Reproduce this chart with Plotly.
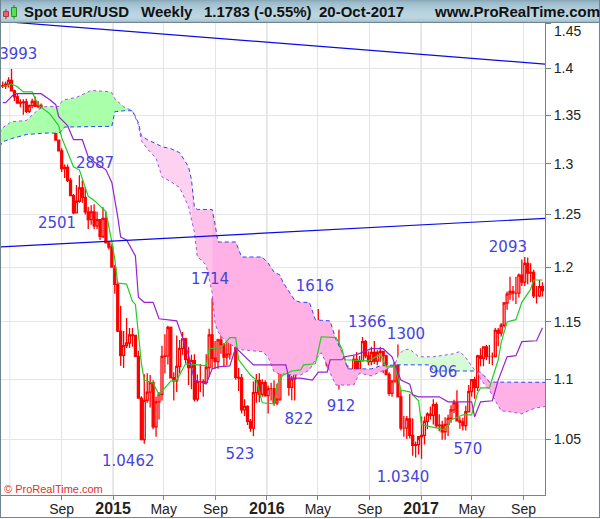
import pandas as pd
import plotly.graph_objects as go

SPOT_FONT = "Liberation Sans"
LABEL_FONT = "DejaVu Sans"
WIDTH, HEIGHT = 600, 519
PLOT_L, PLOT_R, PLOT_T, PLOT_B = 1, 545, 23, 495

# weekly bars, first bar is the week of 14 April 2014
first_week = pd.Timestamp("2014-04-14")

opens = [
    1.3810, 1.3812, 1.3832, 1.3870, 1.3759, 1.3695, 1.3628, 1.3635, 1.3642, 1.3542,
    1.3602, 1.3646, 1.3594, 1.3605, 1.3525, 1.3430, 1.3430, 1.3416, 1.3400, 1.3242,
    1.3132, 1.2952, 1.2965, 1.2835, 1.2684, 1.2516, 1.2629, 1.2760, 1.2667, 1.2525,
    1.2451, 1.2526, 1.2390, 1.2451, 1.2288, 1.2462, 1.2227, 1.2188, 1.1990, 1.1840,
    1.1418, 1.1205, 1.1290, 1.1313, 1.1385, 1.1379, 1.1196, 1.0840, 1.0495, 1.0820,
    1.0890, 1.0970, 1.0600, 1.0807, 1.0870, 1.1197, 1.1200, 1.1450, 1.1012, 1.0985,
    1.1110, 1.1265, 1.1350, 1.1170, 1.1100, 1.1160, 1.0830, 1.0980, 1.0980, 1.0970,
    1.1100, 1.1385, 1.1180, 1.1150, 1.1340, 1.1300, 1.1190, 1.1215, 1.1360, 1.1350,
    1.1015, 1.1010, 1.0740, 1.0770, 1.0645, 1.0590, 1.0885, 1.0990, 1.0870, 1.0970,
    1.0860, 1.0920, 1.0920, 1.0800, 1.0830, 1.1155, 1.1250, 1.1130, 1.0930, 1.1000,
    1.1150, 1.1270, 1.1170, 1.1390, 1.1400, 1.1280, 1.1220, 1.1450, 1.1400, 1.1310,
    1.1220, 1.1120, 1.1370, 1.1250, 1.1280, 1.1120, 1.1130, 1.1060, 1.1040, 1.0975,
    1.1170, 1.1085, 1.1160, 1.1325, 1.1200, 1.1150, 1.1230, 1.1155, 1.1230, 1.1240,
    1.1200, 1.1040, 1.0880, 1.0985, 1.1140, 1.0850, 1.0590, 1.0590, 1.0665, 1.0530,
    1.0450, 1.0455, 1.0520, 1.0530, 1.0645, 1.0705, 1.0695, 1.0785, 1.0610, 1.0615,
    1.0560, 1.0620, 1.0670, 1.0740, 1.0800, 1.0650, 1.0640, 1.0610, 1.0725, 1.0895,
    1.0995, 1.0930, 1.1200, 1.1180, 1.1280, 1.1195, 1.1195, 1.1195, 1.1425, 1.1400,
    1.1470, 1.1670, 1.1750, 1.1775, 1.1760, 1.1760, 1.1925, 1.1860, 1.2035, 1.1945,
    1.1950, 1.1735, 1.1735, 1.1820,
]
highs = [
    1.3860, 1.3860, 1.3905, 1.3993, 1.3770, 1.3735, 1.3670, 1.3670, 1.3675, 1.3615,
    1.3675, 1.3700, 1.3650, 1.3625, 1.3545, 1.3445, 1.3445, 1.3445, 1.3420, 1.3245,
    1.3160, 1.2995, 1.2995, 1.2860, 1.2700, 1.2790, 1.2887, 1.2835, 1.2770, 1.2575,
    1.2590, 1.2600, 1.2530, 1.2455, 1.2570, 1.2530, 1.2245, 1.2215, 1.2020, 1.1865,
    1.1645, 1.1420, 1.1535, 1.1445, 1.1445, 1.1385, 1.1245, 1.0855, 1.1043, 1.1050,
    1.1035, 1.0990, 1.0850, 1.0890, 1.1290, 1.1390, 1.1465, 1.1460, 1.1060, 1.1380,
    1.1340, 1.1410, 1.1360, 1.1280, 1.1210, 1.1215, 1.1040, 1.1130, 1.1000, 1.1215,
    1.1440, 1.1714, 1.1330, 1.1350, 1.1460, 1.1310, 1.1320, 1.1390, 1.1495, 1.1390,
    1.1095, 1.1045, 1.0830, 1.0780, 1.0665, 1.0980, 1.1045, 1.1050, 1.1000, 1.0990,
    1.0945, 1.0970, 1.0990, 1.0960, 1.1200, 1.1375, 1.1260, 1.1145, 1.1030, 1.1220,
    1.1340, 1.1290, 1.1440, 1.1450, 1.1465, 1.1400, 1.1465, 1.1616, 1.1445, 1.1345,
    1.1250, 1.1380, 1.1415, 1.1300, 1.1430, 1.1180, 1.1185, 1.1120, 1.1060, 1.1200,
    1.1235, 1.1200, 1.1365, 1.1340, 1.1240, 1.1280, 1.1330, 1.1250, 1.1280, 1.1245,
    1.1210, 1.1060, 1.0990, 1.1145, 1.1300, 1.0905, 1.0690, 1.0690, 1.0875, 1.0670,
    1.0480, 1.0490, 1.0685, 1.0685, 1.0720, 1.0770, 1.0830, 1.0805, 1.0705, 1.0650,
    1.0680, 1.0700, 1.0780, 1.0825, 1.0906, 1.0680, 1.0675, 1.0775, 1.0950, 1.0995,
    1.1020, 1.1210, 1.1268, 1.1285, 1.1295, 1.1295, 1.1230, 1.1445, 1.1445, 1.1490,
    1.1680, 1.1775, 1.1910, 1.1825, 1.1910, 1.1940, 1.2070, 1.2093, 1.2090, 1.2035,
    1.1975, 1.1825, 1.1880, 1.1860,
]
lows = [
    1.3790, 1.3780, 1.3795, 1.3755, 1.3650, 1.3625, 1.3585, 1.3505, 1.3525, 1.3525,
    1.3575, 1.3590, 1.3575, 1.3490, 1.3425, 1.3365, 1.3335, 1.3335, 1.3240, 1.3130,
    1.2920, 1.2860, 1.2820, 1.2680, 1.2501, 1.2515, 1.2615, 1.2615, 1.2500, 1.2360,
    1.2400, 1.2360, 1.2360, 1.2255, 1.2275, 1.2225, 1.2165, 1.2000, 1.1755, 1.1410,
    1.1115, 1.1095, 1.1270, 1.1270, 1.1280, 1.1195, 1.0840, 1.0495, 1.0462, 1.0800,
    1.0760, 1.0580, 1.0520, 1.0660, 1.0820, 1.1050, 1.1125, 1.1010, 1.0820, 1.0890,
    1.1050, 1.1210, 1.1135, 1.0950, 1.0915, 1.0810, 1.0810, 1.0890, 1.0850, 1.0960,
    1.1020, 1.1085, 1.1090, 1.1090, 1.1220, 1.1105, 1.1120, 1.1170, 1.1330, 1.0995,
    1.0900, 1.0710, 1.0690, 1.0615, 1.0560, 1.0523, 1.0800, 1.0805, 1.0850, 1.0850,
    1.0710, 1.0820, 1.0775, 1.0780, 1.0815, 1.1150, 1.1070, 1.0860, 1.0822, 1.0820,
    1.1060, 1.1150, 1.1145, 1.1325, 1.1235, 1.1215, 1.1215, 1.1385, 1.1310, 1.1200,
    1.1100, 1.1100, 1.1235, 1.1130, 1.0912, 1.0990, 1.1000, 1.1000, 1.0950, 1.0950,
    1.1050, 1.1050, 1.1150, 1.1180, 1.1120, 1.1120, 1.1130, 1.1120, 1.1150, 1.1050,
    1.1040, 1.0860, 1.0850, 1.0970, 1.0850, 1.0570, 1.0520, 1.0500, 1.0505, 1.0365,
    1.0350, 1.0375, 1.0340, 1.0455, 1.0580, 1.0660, 1.0620, 1.0590, 1.0565, 1.0495,
    1.0495, 1.0525, 1.0635, 1.0715, 1.0650, 1.0585, 1.0570, 1.0570, 1.0720, 1.0850,
    1.0835, 1.0900, 1.1110, 1.1110, 1.1165, 1.1130, 1.1120, 1.1190, 1.1285, 1.1370,
    1.1450, 1.1610, 1.1700, 1.1690, 1.1660, 1.1720, 1.1825, 1.1825, 1.1840, 1.1860,
    1.1715, 1.1665, 1.1725, 1.1730,
]
closes = [
    1.3812, 1.3832, 1.3870, 1.3759, 1.3695, 1.3628, 1.3635, 1.3642, 1.3542, 1.3602,
    1.3646, 1.3594, 1.3605, 1.3525, 1.3430, 1.3430, 1.3416, 1.3400, 1.3242, 1.3132,
    1.2952, 1.2965, 1.2835, 1.2684, 1.2516, 1.2629, 1.2760, 1.2667, 1.2525, 1.2451,
    1.2526, 1.2390, 1.2451, 1.2288, 1.2462, 1.2227, 1.2188, 1.2000, 1.1840, 1.1418,
    1.1204, 1.1290, 1.1313, 1.1385, 1.1379, 1.1196, 1.0840, 1.0495, 1.0820, 1.0890,
    1.0970, 1.0600, 1.0807, 1.0870, 1.1197, 1.1200, 1.1450, 1.1012, 1.0985, 1.1110,
    1.1265, 1.1350, 1.1170, 1.1100, 1.1160, 1.0830, 1.0980, 1.0980, 1.0970, 1.1100,
    1.1385, 1.1180, 1.1150, 1.1340, 1.1300, 1.1190, 1.1215, 1.1360, 1.1350, 1.1015,
    1.1010, 1.0740, 1.0770, 1.0645, 1.0590, 1.0885, 1.0990, 1.0870, 1.0970, 1.0860,
    1.0920, 1.0920, 1.0800, 1.0830, 1.1155, 1.1250, 1.1130, 1.0930, 1.1000, 1.1150,
    1.1270, 1.1170, 1.1390, 1.1400, 1.1280, 1.1220, 1.1450, 1.1400, 1.1310, 1.1220,
    1.1120, 1.1370, 1.1250, 1.1280, 1.1120, 1.1130, 1.1060, 1.1040, 1.0975, 1.1170,
    1.1085, 1.1160, 1.1325, 1.1200, 1.1150, 1.1230, 1.1155, 1.1230, 1.1240, 1.1200,
    1.1040, 1.0880, 1.0985, 1.1140, 1.0850, 1.0590, 1.0590, 1.0665, 1.0530, 1.0450,
    1.0455, 1.0520, 1.0530, 1.0645, 1.0705, 1.0695, 1.0785, 1.0610, 1.0615, 1.0560,
    1.0620, 1.0670, 1.0740, 1.0800, 1.0650, 1.0640, 1.0610, 1.0725, 1.0895, 1.0995,
    1.0930, 1.1200, 1.1180, 1.1280, 1.1195, 1.1195, 1.1195, 1.1425, 1.1400, 1.1470,
    1.1670, 1.1750, 1.1775, 1.1760, 1.1760, 1.1925, 1.1860, 1.2035, 1.1945, 1.1950,
    1.1735, 1.1735, 1.1820, 1.1783,
]

# conversion line (green), read at its corners only
tenkan_weeks = [
    0, 3, 5, 7, 10, 12, 16, 19, 20, 24, 26, 29, 31, 35, 37, 38, 39, 42, 44, 45, 47, 48, 51, 53, 55,
    57, 59, 62, 66, 69, 70, 74, 77, 79, 80, 84, 86, 88, 92, 93, 95, 96, 98, 101, 102, 106, 108, 113,
    115, 116, 124, 128, 130, 133, 135, 138, 141, 142, 147, 150, 152, 156, 159, 161, 162, 165, 168,
    169, 171, 174, 176, 179, 180, 183,
]
tenkan = [
    1.3803, 1.3832, 1.3803, 1.3747, 1.3747, 1.3612, 1.3516, 1.3392, 1.3268, 1.2971, 1.2941, 1.2677,
    1.2637, 1.2529, 1.2236, 1.2075, 1.1852, 1.1843, 1.1685, 1.1657, 1.1140, 1.0992, 1.0967, 1.0867,
    1.0925, 1.0983, 1.0992, 1.1132, 1.1123, 1.1114, 1.1263, 1.1272, 1.1360, 1.1360, 1.1167, 1.1035,
    1.0992, 1.0800, 1.0792, 1.0950, 1.1035, 1.1044, 1.1070, 1.1079, 1.1123, 1.1132, 1.1368, 1.1360,
    1.1263, 1.1167, 1.1158, 1.1211, 1.1105, 1.1105, 1.0908, 1.0892, 1.0817, 1.0617, 1.0592, 1.0575,
    1.0658, 1.0700, 1.0700, 1.0883, 1.0925, 1.0925, 1.1167, 1.1316, 1.1500, 1.1520, 1.1676, 1.1796,
    1.1880, 1.1880,
]

# base line (purple)
kijun_weeks = [
    0, 1, 4, 13, 16, 18, 19, 22, 24, 27, 29, 31, 35, 37, 39, 40, 42, 45, 46, 48, 51, 53, 59, 61, 63,
    65, 69, 71, 73, 77, 79, 85, 96, 97, 101, 105, 107, 110, 111, 115, 116, 120, 125, 129, 132, 135,
    138, 139, 141, 148, 151, 159, 160, 162, 166, 168, 171, 174, 176, 181, 183,
]
kijun = [
    1.3633, 1.3633, 1.3729, 1.3729, 1.3665, 1.3612, 1.3485, 1.3392, 1.3247, 1.3247, 1.3072, 1.3021,
    1.2941, 1.2814, 1.2480, 1.2283, 1.2255, 1.2104, 1.1722, 1.1676, 1.1676, 1.1528, 1.1509, 1.1360,
    1.1211, 1.0992, 1.0958, 1.1088, 1.1105, 1.1114, 1.1272, 1.1123, 1.1123, 1.1009, 1.1009, 1.0992,
    1.1061, 1.1061, 1.1167, 1.1167, 1.1193, 1.1211, 1.1263, 1.1263, 1.1193, 1.0992, 1.0958, 1.0867,
    1.0850, 1.0850, 1.0808, 1.0808, 1.0683, 1.0808, 1.0817, 1.0992, 1.1193, 1.1202, 1.1325, 1.1333,
    1.1447,
]

# cloud edges, both read at the same weeks
cloud_weeks = [
    -1, 0, 1, 3, 8, 12, 14, 19, 20, 21, 25, 30, 36, 37, 38, 41, 44,
    46, 47, 49, 52, 54, 57, 60, 63, 64, 65, 66, 67, 69, 71, 72, 73, 75, 79, 81, 85, 88, 90, 92, 94,
    95, 99, 101, 104, 106, 108, 110, 111, 113, 115, 117, 119, 121, 125, 128, 132, 133,
    134, 136, 138, 141, 145, 146, 153, 155, 157, 160, 161,
    162, 164, 165, 167, 169, 172, 176, 179, 181, 184,
]
span_a = [
    1.3320, 1.3371, 1.3392, 1.3433, 1.3446, 1.3558, 1.3590, 1.3594, 1.3644, 1.3665, 1.3689, 1.3764,
    1.3750, 1.3739, 1.3675, 1.3590, 1.3548,
    1.3402, 1.3237, 1.3155, 1.3059, 1.2871, 1.2823, 1.2764, 1.2578, 1.2453, 1.2330, 1.2094, 1.2075,
    1.2019, 1.1768, 1.1491, 1.1412, 1.1342, 1.1272, 1.1254, 1.1246, 1.1237, 1.1193, 1.1061, 1.1044,
    1.1044, 1.1035, 1.1035, 1.1079, 1.1167, 1.1228, 1.1123, 1.1052, 1.0950, 1.0950, 1.0950, 1.0950,
    1.1052, 1.1028, 1.1063, 1.1105, 1.1123,
    1.1202, 1.1254, 1.1259, 1.1193, 1.1193, 1.1193, 1.1219, 1.1239, 1.1184, 1.1079, 1.1061,
    1.1000, 1.0936, 1.0908, 1.0817, 1.0733, 1.0725, 1.0708, 1.0742, 1.0758, 1.0769,
]
span_b = [
    1.3176, 1.3227, 1.3237, 1.3258, 1.3300, 1.3315, 1.3315, 1.3315, 1.3338, 1.3378, 1.3378, 1.3378,
    1.3382, 1.3385, 1.3537, 1.3548, 1.3548,
    1.3423, 1.3289, 1.3247, 1.3206, 1.3175, 1.3155, 1.3114, 1.2971, 1.2843, 1.2569, 1.2549, 1.2549,
    1.2549, 1.2549, 1.2406, 1.2236, 1.2236, 1.2236, 1.2094, 1.2094, 1.2094, 1.2037, 1.1954, 1.1926,
    1.1861, 1.1694, 1.1676, 1.1676, 1.1519, 1.1514, 1.1509, 1.1509, 1.1342, 1.1237, 1.1088, 1.1088,
    1.1088, 1.1088, 1.1114, 1.1123, 1.1123,
    1.1123, 1.1123, 1.1123, 1.1123, 1.1123, 1.1070, 1.1070, 1.1070, 1.1070, 1.1070, 1.1063,
    1.1061, 1.1009, 1.0975, 1.0975, 1.0975, 1.0973, 1.0973, 1.0973, 1.0973, 1.0973,
]
# cloud parts and their fills: first week, last week, colour
cloud_parts = [
    (-1, 44, "#aaffaa"),
    (44, 64, "#fdd2f1"),
    (64, 71, "#fec2ea"),
    (71, 133, "#ffb0e4"),
    (133, 161, "#d6fbd6"),
    (161, 184, "#ffb0e4"),
]

# the two long blue lines
trend_weeks = [-1, 184]
upper_trend = [1.4523, 1.4048]
lower_trend = [1.2189, 1.2462]

label_dates = [
    "2014-05-04", "2014-11-19", "2014-08-21", "2015-08-19", "2016-04-24", "2016-08-26", "2016-11-26",
    "2017-02-22", "2015-02-06", "2015-10-29", "2016-03-17", "2016-06-25", "2016-11-19", "2017-04-22",
    "2017-07-26",
]
label_prices = [
    1.4145, 1.3002, 1.2403, 1.1877, 1.1812, 1.1490, 1.1384,
    1.1050, 1.0312, 1.0369, 1.0657, 1.0765, 1.0182, 1.0408,
    1.2176,
]
label_texts = [
    "1.3993", "2887", "2501", "1714", "1616", "1366", "1300",
    "906", "1.0462", "523", "822", "912", "1.0340", "570",
    "2093",
]

x_tick_dates = [
    "2014-09-01", "2015-01-01", "2015-05-01", "2015-09-01", "2016-01-01", "2016-05-01", "2016-09-01",
    "2017-01-01", "2017-05-01", "2017-09-01",
]
x_tick_labels = ["Sep", "2015", "May", "Sep", "2016", "May", "Sep", "2017", "May", "Sep"]
year_lines = ["2015-01-01", "2016-01-01", "2017-01-01"]
y_ticks = [1.05, 1.1, 1.15, 1.2, 1.25, 1.3, 1.35, 1.4, 1.45]
y_tick_labels = ["1.05", "1.1", "1.15", "1.2", "1.25", "1.3", "1.35", "1.4", ""]

# header strip, colour per pixel row from the top
header_colors = [
    "#8aa9b9", "#93b2c2", "#9ab8c8", "#9fbdcc", "#a3c0cf", "#a6c3d1", "#a9c6d4", "#acc8d6",
    "#afcbd8", "#b2cdda", "#b4cfdc", "#b6d1dd", "#b8d2de", "#b9d3df", "#bad4e0", "#bbd5e1",
    "#bbd5e1", "#bad4e0", "#b8d2de", "#b4cedb", "#aec8d5", "#a3bdcb",
]
FRAME = "#6f8592"


def week_dates(week_numbers):
    return [first_week + pd.Timedelta(days=7 * w) for w in week_numbers]


def px_x(px):
    return (px - PLOT_L) / (PLOT_R - PLOT_L)


def px_y(py):
    return (PLOT_B - py) / (PLOT_B - PLOT_T)


def box(x0, y0, x1, y1, fill, line=None, layer="above"):
    return dict(
        type="rect",
        xref="paper",
        yref="paper",
        x0=px_x(x0),
        x1=px_x(x1),
        y0=px_y(y0),
        y1=px_y(y1),
        fillcolor=fill,
        line=dict(color=line or fill, width=1 if line else 0),
        layer=layer,
    )


def stroke(x0, y0, x1, y1, color):
    return dict(
        type="line",
        xref="paper",
        yref="paper",
        x0=px_x(x0),
        x1=px_x(x1),
        y0=px_y(y0),
        y1=px_y(y1),
        line=dict(color=color, width=1),
        layer="above",
    )


fig = go.Figure()

# --- cloud ---
for start, end, color in cloud_parts:
    part = [n for n, w in enumerate(cloud_weeks) if start <= w <= end]
    part_weeks = [cloud_weeks[n] for n in part]
    part_a = [span_a[n] for n in part]
    part_b = [span_b[n] for n in part]
    fig.add_trace(
        go.Scatter(
            x=week_dates(part_weeks + part_weeks[::-1]),
            y=part_a + part_b[::-1],
            mode="lines",
            fill="toself",
            fillcolor=color,
            line=dict(width=0),
            hoverinfo="skip",
        )
    )
fig.add_trace(
    go.Scatter(
        x=week_dates(cloud_weeks),
        y=span_a,
        mode="lines",
        line=dict(color="#a64df0", width=1, dash="3px,3px"),
    )
)
fig.add_trace(
    go.Scatter(
        x=week_dates(cloud_weeks),
        y=span_b,
        mode="lines",
        line=dict(color="#3344ee", width=1, dash="4px,3px"),
    )
)

# --- candles ---
fig.add_trace(
    go.Candlestick(
        x=week_dates(range(len(closes))),
        open=opens,
        high=highs,
        low=lows,
        close=closes,
        whiskerwidth=0,
        increasing=dict(line=dict(color="#ff0000", width=1.3), fillcolor="#ffffff"),
        decreasing=dict(line=dict(color="#ff0000", width=1.3), fillcolor="#ff0000"),
    )
)

# --- indicator lines ---
fig.add_trace(
    go.Scatter(x=week_dates(tenkan_weeks), y=tenkan, mode="lines", line=dict(color="#22cc22", width=1.2))
)
fig.add_trace(
    go.Scatter(x=week_dates(kijun_weeks), y=kijun, mode="lines", line=dict(color="#9922cc", width=1.2))
)
for trend in (upper_trend, lower_trend):
    fig.add_trace(
        go.Scatter(x=week_dates(trend_weeks), y=trend, mode="lines", line=dict(color="#0a0ae6", width=1.2))
    )

fig.add_trace(
    go.Scatter(
        x=label_dates,
        y=label_prices,
        mode="text",
        text=label_texts,
        textposition="middle center",
        textfont=dict(family=LABEL_FONT, size=15, color="#4444dd"),
    )
)

# --- frame, header, grid ---
shapes = []
for date in year_lines:
    shapes.append(
        dict(
            type="line", xref="x", yref="paper", x0=date, x1=date, y0=0, y1=1,
            line=dict(color="#cccccc", width=1), layer="below",
        )
    )
shapes.append(
    dict(
        type="line", xref="x", yref="paper", x0="2014-05-01", x1="2014-05-01", y0=0, y1=1,
        line=dict(color="#e4e4e4", width=1), layer="below",
    )
)
for row, color in enumerate(header_colors):
    shapes.append(box(0, row, WIDTH, row + 1, color))
shapes.append(box(0, 22, WIDTH, 23, FRAME))
shapes.append(box(0, 0, 1, HEIGHT - 1, FRAME))
shapes.append(box(WIDTH - 1, 0, WIDTH, HEIGHT - 1, FRAME))
shapes.append(box(0, HEIGHT - 2, WIDTH, HEIGHT - 1, FRAME))
# small candles in the header
shapes.append(stroke(6, 9, 6, 19, "#7a3030"))
shapes.append(box(3.5, 11.5, 8.5, 16.5, "#f06060", "#a04040"))
shapes.append(stroke(14, 5, 14, 19, "#2a7a2a"))
shapes.append(box(11.5, 7.5, 16.5, 16.5, "#55e055", "#2f8f2f"))

annotations = []
for text, left in [
    ("Spot EUR/USD", 23),
    ("Weekly", 140),
    ("1.1783 (-0.55%)", 203),
    ("20-Oct-2017", 318),
    ("www.ProRealTime.com", 433),
]:
    annotations.append(
        dict(
            xref="paper", yref="paper", x=px_x(left), y=px_y(12), xanchor="left", yanchor="middle",
            text=f"<b>{text}</b>", showarrow=False, borderpad=0,
            font=dict(family=SPOT_FONT, size=15, color="#111111"),
        )
    )
annotations.append(
    dict(
        xref="paper", yref="paper", x=px_x(3), y=px_y(489), xanchor="left", yanchor="middle",
        text="© ProRealTime.com", showarrow=False, borderpad=0,
        font=dict(family=SPOT_FONT, size=11, color="#e03030"),
    )
)
annotations.append(
    dict(
        xref="paper", yref="paper", x=px_x(553), y=px_y(31), xanchor="left", yanchor="middle",
        text="1.45", showarrow=False, borderpad=0,
        font=dict(family=SPOT_FONT, size=14, color="#222222"),
    )
)

tick_text = [
    f'<span style="font-size:16px"><b>{t}</b></span>' if t.startswith("20") else t for t in x_tick_labels
]

fig.update_layout(
    width=WIDTH,
    height=HEIGHT,
    autosize=False,
    showlegend=False,
    paper_bgcolor="white",
    plot_bgcolor="white",
    margin=dict(l=PLOT_L, r=WIDTH - PLOT_R, t=PLOT_T, b=HEIGHT - PLOT_B, pad=0, autoexpand=False),
    shapes=shapes,
    annotations=annotations,
    hovermode=False,
    boxgap=0.05,
    xaxis=dict(
        type="date",
        range=["2014-04-10", "2017-10-22"],
        tickmode="array",
        tickvals=x_tick_dates,
        ticktext=tick_text,
        tickangle=0,
        ticks="outside",
        ticklen=4,
        ticklabelstandoff=-3,
        tickcolor=FRAME,
        showgrid=True,
        gridcolor="#e4e4e4",
        gridwidth=1,
        showline=True,
        linecolor=FRAME,
        linewidth=1,
        zeroline=False,
        automargin=False,
        rangeslider=dict(visible=False),
        tickfont=dict(family=SPOT_FONT, size=14, color="#222222"),
    ),
    yaxis=dict(
        type="log",
        side="right",
        range=[0.00234, 0.16146],
        tickmode="array",
        tickvals=y_ticks,
        ticktext=y_tick_labels,
        ticks="outside",
        ticklen=5,
        tickcolor=FRAME,
        showgrid=True,
        gridcolor="#e6e6e6",
        gridwidth=1,
        showline=True,
        linecolor=FRAME,
        linewidth=1,
        zeroline=False,
        automargin=False,
        tickfont=dict(family=SPOT_FONT, size=14, color="#222222"),
    ),
)

fig.write_html(
    "out.html",
    config=dict(displayModeBar=False),
    post_script="document.body.style.margin='0';document.body.style.overflow='hidden';",
)
